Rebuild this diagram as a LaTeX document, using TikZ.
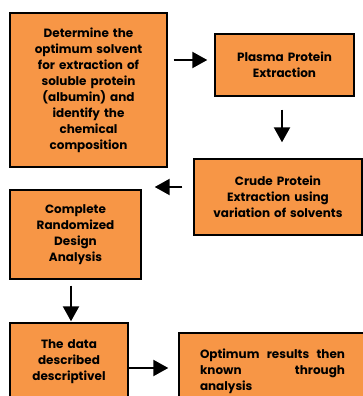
\documentclass[tikz,border=0pt]{standalone}
\usepackage{fontspec}
\setmainfont{Poppins}[BoldFont={Poppins Bold}]
\usetikzlibrary{arrows.meta}
\definecolor{boxorange}{HTML}{F79646}
\tikzset{
  box/.style={draw=black, line width=1.4pt, fill=boxorange, inner sep=0pt,
    font=\bfseries\fontsize{12}{16}\selectfont, align=center},
  arr/.style={line width=2.2pt, -{Triangle[length=15pt,width=16pt]}}
}
\begin{document}
\begin{tikzpicture}[x=1pt,y=-1pt]
\useasboundingbox (0,0) rectangle (363,396);
\clip (0,0) rectangle (363,396);
\node[box, minimum width=157pt, minimum height=154pt, text width=150pt] (b1) at (88.5,90)
  {Determine the\\optimum solvent\\for extraction of\\soluble protein\\(albumin) and\\identify the\\chemical\\composition};
\node[box, minimum width=139pt, minimum height=62pt, text width=135pt] (b2) at (284.5,65)
  {Plasma Protein\\Extraction};
\node[box, minimum width=168pt, minimum height=76pt, text width=166pt] (b3) at (278,197)
  {Crude Protein\\Extraction using\\variation of solvents};
\node[box, minimum width=131pt, minimum height=89pt, text width=127pt] (b4) at (75.5,234.5)
  {Complete\\Randomized\\Design\\Analysis};
\node[box, minimum width=118pt, minimum height=78pt, text width=114pt] (b5) at (69,362)
  {The data\\described\\descriptivel};
\node[box, minimum width=196pt, minimum height=76pt] (b6) at (277,371)
  {\parbox{145pt}{\baselineskip=16pt\rightskip=0pt plus 0pt\leftskip=0pt Optimum results then known\hfill through\\analysis}\hspace{9pt}};
\draw[arr, shorten <=6pt, shorten >=7pt] ([yshift=5pt]b1.east |- b2.west) -- ([yshift=5pt]b2.west);
\draw[arr, shorten <=13pt, shorten >=16pt] ([xshift=-2.5pt]b2.south) -- ([xshift=-2.5pt]b2.south |- b3.north);
\draw[arr, shorten <=11pt, shorten >=13pt] ([yshift=10pt]b3.west) -- ([yshift=10pt]b3.west -| b4.east);
\draw[arr, shorten <=6pt, shorten >=1pt] ([xshift=-4.5pt]b4.south) -- ([xshift=-4.5pt]b4.south |- b5.north);
\draw[arr, shorten <=0pt, shorten >=10pt] ([yshift=-6pt]b5.east) -- ([yshift=-6pt]b5.east -| b6.west);
\end{tikzpicture}
\end{document}
